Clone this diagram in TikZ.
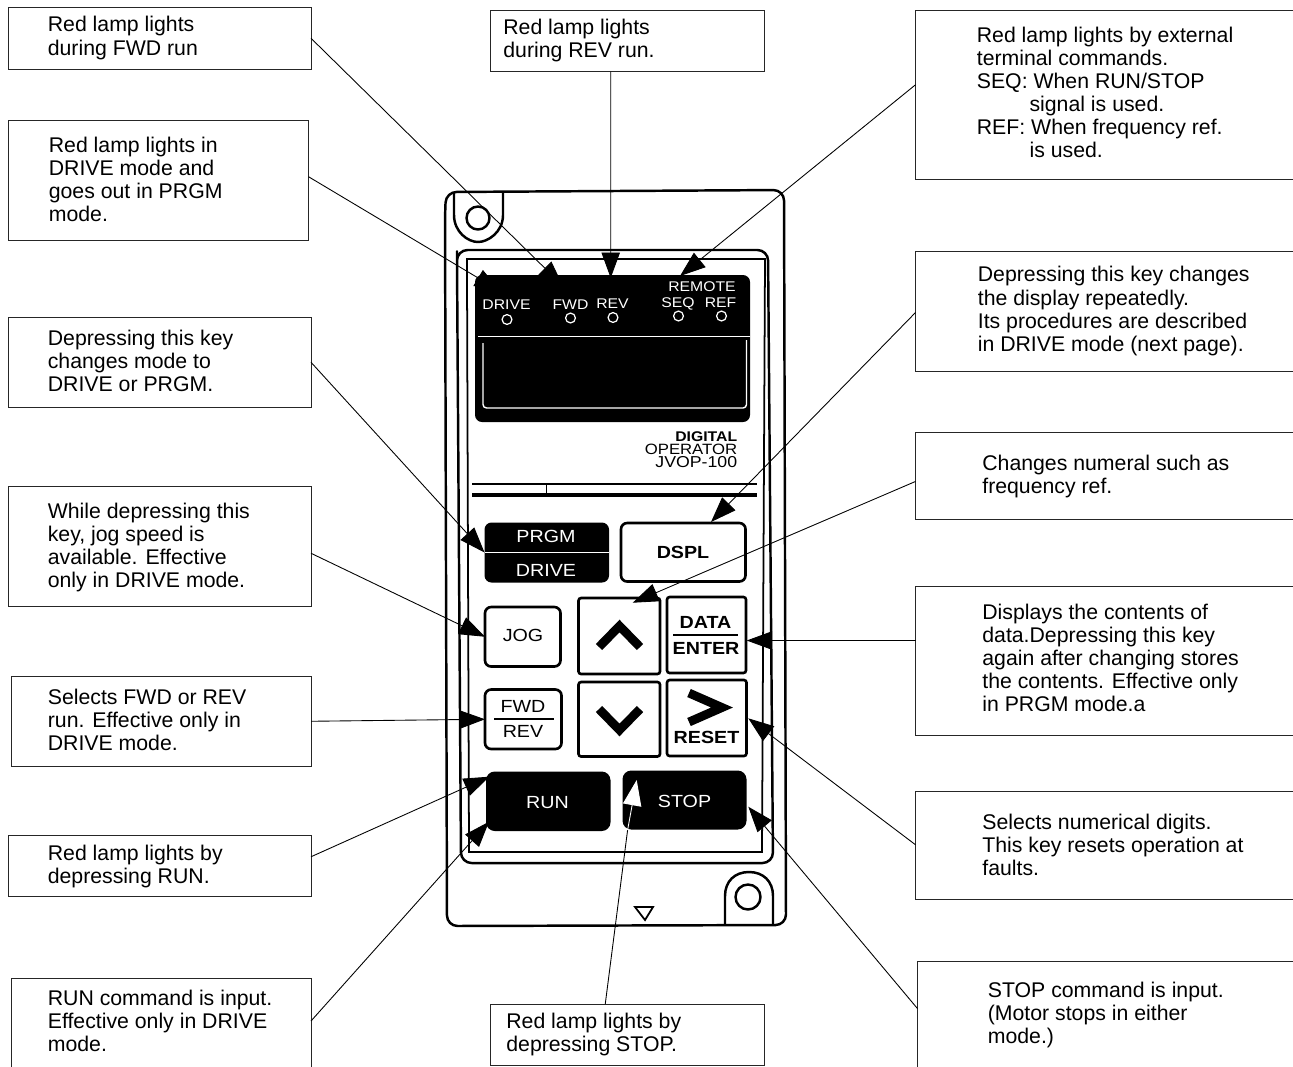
\documentclass[tikz,border=0pt]{standalone}
\usepackage{fontspec}
\setmainfont{Liberation Sans}
\newfontfamily\keyfont[FakeStretch=1.12]{Liberation Sans}
\usetikzlibrary{arrows.meta,calc,fit}
\tikzset{
    note/.style={shape=rectangle,draw=black!85,line width=0.55pt,inner sep=0pt,outer sep=0pt},
    notetext/.style={anchor=west,align=left,inner sep=0pt,font=\fontsize{12.1}{13.1}\selectfont},
    ptr/.style={-{Triangle[length=14.5pt,width=10.5pt]},line width=0.5pt},
    keybox/.style={shape=rectangle,draw=black,line width=1.5pt,rounded corners=3.5pt,inner sep=0pt,outer sep=0pt},
    blackbox/.style={shape=rectangle,fill=black,rounded corners=4pt,inner sep=0pt,outer sep=0pt},
    keytext/.style={inner sep=0pt,font=\keyfont\fontsize{10}{11}\selectfont},
    keybold/.style={inner sep=0pt,font=\keyfont\bfseries\fontsize{10}{11}\selectfont},
    keywhite/.style={keytext,text=white},
    panelmark/.style={inner sep=0pt,text=white,font=\keyfont\fontsize{8}{9}\selectfont},
    printmark/.style={inner sep=0pt,anchor=east,font=\keyfont\fontsize{8.5}{9}\selectfont},
    lamp/.style={shape=circle,draw=white,line width=0.7pt,minimum size=5.6pt,inner sep=0pt},
    chevron/.style={line width=5pt,miter limit=10},
    casing/.style={line width=1.4pt,line join=round}
}
\begin{document}
\begin{tikzpicture}[x=0.02cm,y=-0.02cm]
    \useasboundingbox (0,0) rectangle (1293,1066);

    \draw[casing,rounded corners=6pt] (445,215) -- (446,192) -- (784,190) -- (786,925) -- (447,926) -- cycle;
    \draw[casing] (454,193) -- (454,215) .. controls (454,232) and (468,242) .. (478,242) .. controls (488,242) and (503,232) .. (503,215) -- (503,193);
    \draw[casing] (478,218) circle (11.5);
    \draw[casing] (725,925) -- (725,896) .. controls (725,881) and (735,872) .. (749,872) .. controls (763,872) and (773,881) .. (773,896) -- (773,925);
    \draw[casing] (748,897) circle (12.5);
    \draw[line width=1pt,line join=miter] (635,907) -- (653,907) -- (645,920) -- cycle;
    \draw[casing,rounded corners=6pt] (457,262) -- (457,250) -- (768,250) -- (773,863) -- (461,863) -- cycle;
    \draw[line width=1pt] (467,276) -- (467,259) -- (765,259) -- (762,852) -- (469,852) -- (467,276);

    \node[blackbox,fit={(475,275) (750,422)}] (panel) {};
    \draw[white,line width=0.8pt] (478,336.5) -- (750,336.5);
    \draw[white,line width=0.8pt,rounded corners=2pt] (483,343) -- (483,408) -- (746.5,408) -- (746.5,340);
    \node[panelmark] (drivemark) at (506.5,305) {DRIVE};
    \node[panelmark] (fwdmark) at (570.5,305) {FWD};
    \node[panelmark] (revmark) at (612.5,304) {REV};
    \node[panelmark] (remotemark) at (702,287) {REMOTE};
    \node[panelmark] (seqmark) at (678,304) {SEQ};
    \node[panelmark] (refmark) at (720.5,303) {REF};
    \node[lamp] (drivelamp) at (507,319.5) {};
    \node[lamp] (fwdlamp) at (570.5,318) {};
    \node[lamp] (revlamp) at (613,317.5) {};
    \node[lamp] (seqlamp) at (678.5,316) {};
    \node[lamp] (reflamp) at (721.5,316) {};

    \node[printmark,font=\keyfont\bfseries\fontsize{8}{9}\selectfont] (digitalmark) at (737.5,436.5) {DIGITAL};
    \node[printmark] (operatormark) at (737.5,449.5) {OPERATOR};
    \node[printmark,font=\keyfont\fontsize{9}{9}\selectfont] (modelmark) at (737.5,462.5) {JVOP-100};
    \draw[line width=1.2pt] (472,484) -- (757,484);
    \draw[line width=2.4pt] (472,495) -- (757,495);
    \draw[line width=0.5pt] (546,484) -- (546,495);

    \node[blackbox,fit={(484.5,522.5) (609,582.5)}] (modekey) {};
    \draw[white,line width=1pt] (484.5,552.5) -- (609,552.5);
    \node[keywhite] (prgmlabel) at (546,536.5) {PRGM};
    \node[keywhite] (drivelabel) at (546,570.5) {DRIVE};
    \node[keybox,fit={(621,523) (745.5,581.5)}] (dsplkey) {};
    \node[keybold] (dspllabel) at (683,552) {DSPL};
    \node[keybox,fit={(485,607) (560.5,666.5)}] (jogkey) {};
    \node[keytext] (joglabel) at (523,635) {JOG};
    \node[keybox,fit={(485,689.5) (561.5,749)}] (dirkey) {};
    \node[keytext] (fwdlabel) at (523,706.5) {FWD};
    \draw[line width=0.9pt] (494,719) -- (554,719);
    \node[keytext] (revlabel) at (523,731) {REV};
    \node[keybox,rounded corners=1.5pt,fit={(578.5,598) (660,674)}] (upkey) {};
    \draw[chevron] (599,647) -- (619.5,626) -- (640,647);
    \node[keybox,rounded corners=1.5pt,fit={(578.5,682) (660,756.5)}] (downkey) {};
    \draw[chevron] (599,709) -- (619.5,730) -- (640,709);
    \node[keybox,rounded corners=1.5pt,fit={(667,597) (746,673)}] (datakey) {};
    \node[keybold] (datalabel) at (705.5,622.5) {DATA};
    \draw[line width=0.9pt] (673,635) -- (738,635);
    \node[keybold] (enterlabel) at (706,648.5) {ENTER};
    \node[keybox,rounded corners=1.5pt,fit={(667,680) (746.5,756)}] (resetkey) {};
    \draw[chevron] (689,693) -- (722,707.5) -- (689,722);
    \node[keybold] (resetlabel) at (706.5,737.5) {RESET};
    \node[blackbox,rounded corners=5pt,fit={(486,771.5) (610.5,831)}] (runkey) {};
    \node[keywhite] (runlabel) at (547.5,802.5) {RUN};
    \node[blackbox,rounded corners=5pt,fit={(622.5,770.5) (746.5,829.5)}] (stopkey) {};
    \node[keywhite] (stoplabel) at (684.5,801.5) {STOP};

    \node[note,fit={(8.5,7.5) (311,69)}] (fwdnote) {};
    \node[notetext] (fwdtext) at (47.5,38) {Red lamp lights\\during FWD run};
    \node[note,fit={(490,10.5) (764.5,71.5)}] (revnote) {};
    \node[notetext] (revtext) at (503,40.5) {Red lamp lights\\during REV run.};
    \node[note,fit={(915.5,10.5) (1300,179)}] (remotenote) {};
    \node[notetext] (remotetext) at (976.5,92) {Red lamp lights by external\\terminal commands.\\SEQ: When RUN/STOP\\\hspace*{30pt}signal is used.\\REF: When frequency ref.\\\hspace*{30pt}is used.};
    \node[note,fit={(8.5,120.5) (308.5,240.5)}] (drivenote) {};
    \node[notetext] (drivetext) at (48.5,179.5) {Red lamp lights in\\DRIVE mode and\\goes out in PRGM\\mode.};
    \node[note,fit={(8.5,317.5) (311,407)}] (modenote) {};
    \node[notetext] (modetext) at (47.5,361) {Depressing this key\\changes mode to\\DRIVE or PRGM.};
    \node[note,fit={(915.5,251) (1300,371)}] (dsplnote) {};
    \node[notetext] (dspltext) at (977.5,311) {Depressing this key changes\\the display repeatedly.\\Its procedures are described\\in DRIVE mode (next page).};
    \node[note,fit={(915.5,432.5) (1300,519)}] (numeralnote) {};
    \node[notetext] (numeraltext) at (982,476.5) {Changes numeral such as\\frequency ref.};
    \node[note,fit={(8.5,486) (311,606.5)}] (jognote) {};
    \node[notetext] (jogtext) at (47.5,547.5) {While depressing this\\key, jog speed is\\available. Effective\\only in DRIVE mode.};
    \node[note,fit={(915.5,586.5) (1300,735)}] (datanote) {};
    \node[notetext] (datatext) at (982,658) {Displays the contents of\\data.Depressing this key\\again after changing stores\\the contents. Effective only\\in PRGM mode.a};
    \node[note,fit={(11,676.5) (311,766)}] (dirnote) {};
    \node[notetext] (dirtext) at (47.5,719.5) {Selects FWD or REV\\run. Effective only in\\DRIVE mode.};
    \node[note,fit={(8.5,835) (311,896.5)}] (runlampnote) {};
    \node[notetext] (runlamptext) at (47.5,866) {Red lamp lights by\\depressing RUN.};
    \node[note,fit={(915.5,791.5) (1300,899)}] (resetnote) {};
    \node[notetext] (resettext) at (982,844.5) {Selects numerical digits.\\This key resets operation at\\faults.};
    \node[note,fit={(11,978) (311,1075)}] (runnote) {};
    \node[notetext] (runtext) at (47.5,1021) {RUN command is input.\\Effective only in DRIVE\\mode.};
    \node[note,fit={(490,1004) (764.5,1065)}] (stoplampnote) {};
    \node[notetext] (stoplamptext) at (506,1034.5) {Red lamp lights by\\depressing STOP.};
    \node[note,fit={(917.5,961) (1300,1075)}] (stopnote) {};
    \node[notetext] (stoptext) at (987.5,1014.5) {STOP command is input.\\(Motor stops in either\\mode.)};

    \coordinate (fwdtip) at (563,286);
    \coordinate (revtip) at (610.7,278);
    \coordinate (remotetip) at (680,276);
    \coordinate (drivetip) at (500,291);
    \coordinate (dspltip) at (711,522);
    \coordinate (uptip) at (632.7,602.7);
    \coordinate (datatip) at (746.7,640.5);
    \coordinate (resettip) at (748.3,718.3);
    \coordinate (stoptip) at (748.3,806.7);
    \coordinate (runlamptip) at (489.3,776.7);
    \coordinate (runtip) at (489,821.7);
    \coordinate (stopedge) at (627.6,830);
    \coordinate (stoplamptip) at (636.7,780);

    \path [ptr] (fwdnote.east) edge (fwdtip);
    \path [ptr] ($(revnote.south)+(-16.5,0)$) edge (revtip);
    \path [ptr] ($(remotenote.west)+(0,-10)$) edge (remotetip);
    \path [ptr] ($(drivenote.east)+(0,-3.8)$) edge (drivetip);
    \path [ptr] (modenote.east) edge (modekey.west);
    \path [ptr] ($(dsplnote.west)+(0,1.5)$) edge (dspltip);
    \path [ptr] ($(numeralnote.west)+(0,5.7)$) edge (uptip);
    \path [ptr] ($(jognote.east)+(0,7)$) edge (jogkey.west);
    \path [ptr] (datanote.west |- datatip) edge (datatip);
    \path [ptr] (dirnote.east) edge (dirkey.west);
    \path [ptr] ($(runlampnote.east)+(0,-9)$) edge (runlamptip);
    \path [ptr] ($(resetnote.west)+(0,-0.5)$) edge (resettip);
    \path [ptr] ($(runnote.east)+(0,-5.5)$) edge (runtip);
    \path [ptr] ($(stopnote.west)+(0,-9.4)$) edge (stoptip);
    \path [line width=0.5pt] ($(stoplampnote.north)+(-22,0)$) edge (stopedge);
    \path [ptr,white] (stopedge) edge (stoplamptip);
\end{tikzpicture}
\end{document}
